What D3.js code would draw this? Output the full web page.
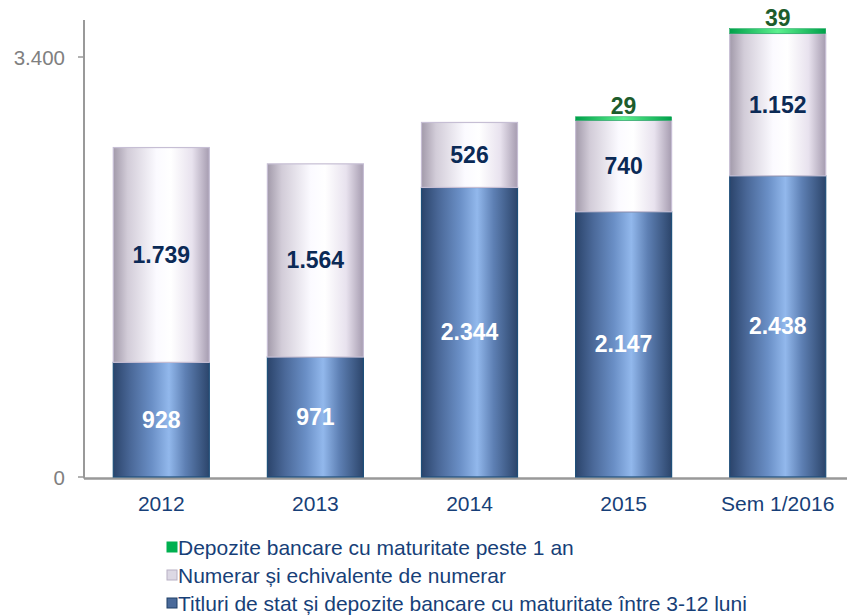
<!DOCTYPE html>
<html>
<head>
<meta charset="utf-8">
<script src="https://cdn.jsdelivr.net/npm/d3@7"></script>
<style>
  body { margin: 0; background: #fff; }
  svg { display: block; font-family: "Liberation Sans", Arial, sans-serif; }
</style>
</head>
<body>
<svg id="chart" width="847" height="615"></svg>
<script>
// Categories and stacked series (bottom to top)
const categories = ["2012", "2013", "2014", "2015", "Sem 1/2016"];
const titluri = [928, 971, 2344, 2147, 2438];
const numerar = [1739, 1564, 526, 740, 1152];
const depozite = [0, 0, 0, 29, 39];
const yTicks = [0, 3400];
const seriesNames = [
  "Depozite bancare cu maturitate peste 1 an",
  "Numerar și echivalente de numerar",
  "Titluri de stat și depozite bancare cu maturitate între 3-12 luni"
];

const svg = d3.select("#chart");
const W = 847, H = 615;
const x0 = 84, yBase = 477;

const x = d3.scaleBand().domain(categories).range([x0, 855]).paddingInner(0.377).paddingOuter(0.19);
const y = d3.scaleLinear().domain([0, 3400]).range([yBase, 57]);

const fmt = d3.formatLocale({ decimal: ",", thousands: ".", grouping: [3], currency: ["", ""] }).format(",d");

// Cylinder-like horizontal gradients
const defs = svg.append("defs");
function grad(id, stops) {
  const g = defs.append("linearGradient").attr("id", id).attr("x1", "0%").attr("x2", "100%").attr("y1", "0%").attr("y2", "0%");
  stops.forEach(([o, c]) => g.append("stop").attr("offset", o).attr("stop-color", c));
}
grad("gBlue", [["0%", "#2b446b"], ["18%", "#4a6898"], ["40%", "#6a8fc6"], ["58%", "#92b8ec"], ["75%", "#5e80b4"], ["100%", "#2c456b"]]);
grad("gLight", [["0%", "#a29aaa"], ["15%", "#d2ccd8"], ["45%", "#fbfaff"], ["60%", "#ffffff"], ["82%", "#e8e2ee"], ["100%", "#a69cb0"]]);
grad("gGreen", [["0%", "#00a04a"], ["50%", "#5df08f"], ["100%", "#00a04a"]]);

const series = [
  { key: "titluri", values: titluri, fill: "url(#gBlue)", stroke: "#1f4f7a", label: "#ffffff" },
  { key: "numerar", values: numerar, fill: "url(#gLight)", stroke: "#c6bed4", label: "#0b2a56" },
  { key: "depozite", values: depozite, fill: "url(#gGreen)", stroke: "#00a04a", label: "#1d5c2c" }
];

// Stacked rows
const rows = categories.map((c, i) => ({ cat: c, titluri: titluri[i], numerar: numerar[i], depozite: depozite[i] }));
const stack = d3.stack().keys(series.map(s => s.key))(rows);

// Axes
svg.append("line").attr("x1", x0).attr("x2", W).attr("y1", yBase + 1.5).attr("y2", yBase + 1.5)
  .attr("stroke", "#999999").attr("stroke-width", 2.5);
svg.append("line").attr("x1", x0).attr("x2", x0).attr("y1", 20).attr("y2", yBase + 1.5)
  .attr("stroke", "#999999").attr("stroke-width", 2);

const yTickG = svg.append("g");
yTicks.forEach(t => {
  yTickG.append("line").attr("x1", x0 - 6).attr("x2", x0).attr("y1", y(t)).attr("y2", y(t))
    .attr("stroke", "#999999").attr("stroke-width", 1.5);
  yTickG.append("text").attr("x", x0 - 19).attr("y", y(t) + 8).attr("text-anchor", "end")
    .attr("font-size", 20.5).attr("fill", "#808080").text(fmt(t));
});

// Bars
stack.forEach((layer, li) => {
  const s = series[li];
  const g = svg.append("g");
  layer.forEach((d, i) => {
    const v = d[1] - d[0];
    if (v <= 0) return;
    g.append("rect")
      .attr("x", x(categories[i]))
      .attr("y", y(d[1]))
      .attr("width", x.bandwidth())
      .attr("height", y(d[0]) - y(d[1]))
      .attr("fill", s.fill)
      .attr("stroke", s.stroke)
      .attr("stroke-width", li === 2 ? 0.5 : 1.2);
  });
});

// Value labels
stack.forEach((layer, li) => {
  const s = series[li];
  layer.forEach((d, i) => {
    const v = d[1] - d[0];
    if (v <= 0) return;
    const cx = x(categories[i]) + x.bandwidth() / 2;
    const cy = li === 2 ? y(d[1]) - 3 : (y(d[0]) + y(d[1])) / 2 + 8;
    svg.append("text").attr("x", cx).attr("y", cy).attr("text-anchor", "middle")
      .attr("font-size", 23).attr("font-weight", "bold").attr("fill", s.label).text(fmt(v));
  });
});

// Category labels
categories.forEach(c => {
  svg.append("text").attr("x", x(c) + x.bandwidth() / 2).attr("y", 511).attr("text-anchor", "middle")
    .attr("font-size", 21).attr("fill", "#173f78").text(c);
});

// Legend
const legend = [
  { name: seriesNames[0], fill: "#00b050", stroke: "#00b050" },
  { name: seriesNames[1], fill: "#dcd8e4", stroke: "#b8b0c4" },
  { name: seriesNames[2], fill: "#4a6a9a", stroke: "#1f3f66" }
];
legend.forEach((l, i) => {
  const base = 555 + i * 28;
  svg.append("rect").attr("x", 167).attr("y", base - 13).attr("width", 10).attr("height", 10)
    .attr("fill", l.fill).attr("stroke", l.stroke).attr("stroke-width", 1);
  svg.append("text").attr("x", 178).attr("y", base).attr("font-size", 21).attr("fill", "#173f78").text(l.name);
});
</script>
</body>
</html>
